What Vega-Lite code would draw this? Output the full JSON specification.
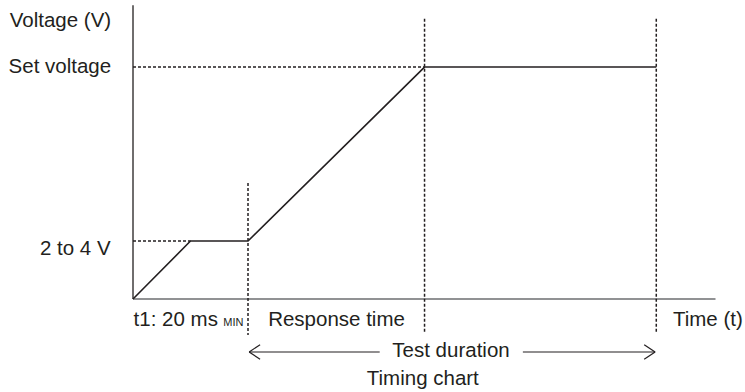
{
  "$schema": "https://vega.github.io/schema/vega-lite/v6.json",
  "width": 745,
  "height": 392,
  "padding": 0,
  "autosize": {"type": "fit", "contains": "padding"},
  "background": "white",
  "config": {"view": {"stroke": null}, "text": {"font": "Liberation Sans", "color": "#231f20"}},
  "datasets": {
    "signal": [
      {"t": 0, "v": 0},
      {"t": 10, "v": 3},
      {"t": 20, "v": 3},
      {"t": 50.7, "v": 12},
      {"t": 91, "v": 12}
    ],
    "segments": [
      {"kind": "vaxis", "t": 0, "v": 0, "t2": 0, "v2": 15.2},
      {"kind": "haxis", "t": 0, "v": 0, "t2": 101.3, "v2": 0},
      {"kind": "guide", "t": 0, "v": 3, "t2": 10, "v2": 3},
      {"kind": "guide", "t": 0, "v": 12, "t2": 50.7, "v2": 12},
      {"kind": "guide", "t": 20, "v": 6.0, "t2": 20, "v2": -1.86},
      {"kind": "guide", "t": 50.7, "v": 14.5, "t2": 50.7, "v2": -1.76},
      {"kind": "guide", "t": 91, "v": 14.5, "t2": 91, "v2": -1.76},
      {"kind": "arrow", "t": 20.2, "v": -2.74, "t2": 42.9, "v2": -2.74},
      {"kind": "arrow", "t": 67.8, "v": -2.74, "t2": 90.8, "v2": -2.74},
      {"kind": "arrow", "t": 20.2, "v": -2.74, "t2": 22.1, "v2": -2.36},
      {"kind": "arrow", "t": 20.2, "v": -2.74, "t2": 22.1, "v2": -3.12},
      {"kind": "arrow", "t": 90.8, "v": -2.74, "t2": 88.9, "v2": -2.36},
      {"kind": "arrow", "t": 90.8, "v": -2.74, "t2": 88.9, "v2": -3.12}
    ],
    "labels": [
      {"role": "left", "label": "Voltage (V)", "t": -3.8, "v": 14.07},
      {"role": "left", "label": "Set voltage", "t": -3.8, "v": 11.69},
      {"role": "left", "label": "2 to 4 V", "t": -3.9, "v": 2.28},
      {"role": "start", "label": "t1: 20 ms", "t": 0.1, "v": -1.4},
      {"role": "sub", "label": "MIN", "t": 15.7, "v": -1.4},
      {"role": "start", "label": "Response time", "t": 23.5, "v": -1.4},
      {"role": "start", "label": "Time (t)", "t": 93.9, "v": -1.4},
      {"role": "center", "label": "Test duration", "t": 55.3, "v": -3.0},
      {"role": "center", "label": "Timing chart", "t": 50.4, "v": -4.45}
    ]
  },
  "layer": [
    {
      "data": {"name": "segments"},
      "transform": [{"filter": "datum.kind == 'haxis'"}],
      "mark": {"type": "rule", "color": "#6d6e71", "strokeWidth": 1.6},
      "encoding": {
        "x": {"field": "t", "type": "quantitative", "scale": {"domain": [-23.13, 106.43], "nice": false, "zero": false}, "axis": null},
        "y": {"field": "v", "type": "quantitative", "scale": {"domain": [-4.81, 15.47], "nice": false, "zero": false}, "axis": null},
        "x2": {"field": "t2"},
        "y2": {"field": "v2"}
      }
    },
    {
      "data": {"name": "segments"},
      "transform": [{"filter": "datum.kind == 'vaxis'"}],
      "mark": {"type": "rule", "color": "#231f20", "strokeWidth": 1.3},
      "encoding": {
        "x": {"field": "t", "type": "quantitative"},
        "y": {"field": "v", "type": "quantitative"},
        "x2": {"field": "t2"},
        "y2": {"field": "v2"}
      }
    },
    {
      "data": {"name": "segments"},
      "transform": [{"filter": "datum.kind == 'guide'"}],
      "mark": {"type": "rule", "color": "#231f20", "strokeWidth": 1.5, "strokeDash": [3, 2]},
      "encoding": {
        "x": {"field": "t", "type": "quantitative"},
        "y": {"field": "v", "type": "quantitative"},
        "x2": {"field": "t2"},
        "y2": {"field": "v2"}
      }
    },
    {
      "data": {"name": "segments"},
      "transform": [{"filter": "datum.kind == 'arrow'"}],
      "mark": {"type": "rule", "color": "#231f20", "strokeWidth": 1.2},
      "encoding": {
        "x": {"field": "t", "type": "quantitative"},
        "y": {"field": "v", "type": "quantitative"},
        "x2": {"field": "t2"},
        "y2": {"field": "v2"}
      }
    },
    {
      "data": {"name": "signal"},
      "mark": {"type": "line", "color": "#231f20", "strokeWidth": 1.6},
      "encoding": {
        "x": {"field": "t", "type": "quantitative"},
        "y": {"field": "v", "type": "quantitative"}
      }
    },
    {
      "data": {"name": "labels"},
      "transform": [{"filter": "datum.role == 'left'"}],
      "mark": {"type": "text", "align": "right", "baseline": "alphabetic", "fontSize": 20.5},
      "encoding": {
        "x": {"field": "t", "type": "quantitative"},
        "y": {"field": "v", "type": "quantitative"},
        "text": {"field": "label"}
      }
    },
    {
      "data": {"name": "labels"},
      "transform": [{"filter": "datum.role == 'start'"}],
      "mark": {"type": "text", "align": "left", "baseline": "alphabetic", "fontSize": 20.5},
      "encoding": {
        "x": {"field": "t", "type": "quantitative"},
        "y": {"field": "v", "type": "quantitative"},
        "text": {"field": "label"}
      }
    },
    {
      "data": {"name": "labels"},
      "transform": [{"filter": "datum.role == 'sub'"}],
      "mark": {"type": "text", "align": "left", "baseline": "alphabetic", "fontSize": 11},
      "encoding": {
        "x": {"field": "t", "type": "quantitative"},
        "y": {"field": "v", "type": "quantitative"},
        "text": {"field": "label"}
      }
    },
    {
      "data": {"name": "labels"},
      "transform": [{"filter": "datum.role == 'center'"}],
      "mark": {"type": "text", "align": "center", "baseline": "alphabetic", "fontSize": 20.5},
      "encoding": {
        "x": {"field": "t", "type": "quantitative"},
        "y": {"field": "v", "type": "quantitative"},
        "text": {"field": "label"}
      }
    }
  ]
}
